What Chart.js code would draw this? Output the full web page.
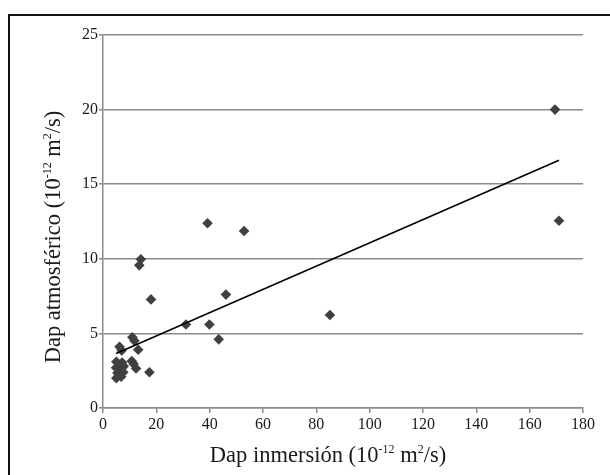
<!DOCTYPE html>
<html>
<head>
<meta charset="utf-8">
<title>Dap atmosférico vs Dap inmersión</title>
<script src="https://cdn.jsdelivr.net/npm/chart.js@4.4.1/dist/chart.umd.min.js"></script>
<style>
  html, body { margin: 0; padding: 0; background: #ffffff; }
  #wrap { width: 610px; height: 475px; position: relative; }
  canvas { display: block; }
</style>
</head>
<body>
<div id="wrap"><canvas id="c" width="610" height="475"></canvas></div>
<script>
// Apparent diffusion coefficients (10^-12 m2/s): immersion test vs atmospheric exposure
const dapInmersion = [
  169.5, 171.0, 85.1, 52.9, 39.2, 46.1, 39.9, 43.4, 31.1, 18.0,
  14.2, 13.6, 17.4, 11.0, 11.8, 13.2, 6.2, 7.0,
  5.0, 6.0, 7.2, 4.9, 6.5, 7.8, 5.4, 7.6, 5.0, 6.8,
  10.8, 11.5, 12.4
];
const dapAtmosferico = [
  20.0, 12.55, 6.23, 11.86, 12.38, 7.6, 5.6, 4.6, 5.6, 7.28,
  9.97, 9.56, 2.4, 4.74, 4.5, 3.9, 4.1, 3.85,
  3.1, 2.9, 3.05, 2.7, 2.6, 2.8, 2.35, 2.4, 2.0, 2.1,
  3.15, 2.95, 2.65
];

// Linear trend line: y = trendIntercept + trendSlope * x
const trendIntercept = 3.27;
const trendSlope = 0.078;

const xTicks = [0, 20, 40, 60, 80, 100, 120, 140, 160, 180];
const yTicks = [0, 5, 10, 15, 20, 25];

const xTitle = [
  { t: 'Dap inmersión (10' }, { t: '-12', sup: true }, { t: ' m' }, { t: '2', sup: true }, { t: '/s)' }
];
const yTitle = [
  { t: 'Dap atmosférico (10' }, { t: '-12', sup: true }, { t: ' m' }, { t: '2', sup: true }, { t: '/s)' }
];

const points = dapInmersion.map((x, i) => ({ x: x, y: dapAtmosferico[i] }));
const xMin = Math.min(...dapInmersion);
const xMax = Math.max(...dapInmersion);
const trend = [
  { x: xMin, y: trendIntercept + trendSlope * xMin },
  { x: xMax, y: trendIntercept + trendSlope * xMax }
];

const SERIF = '"Liberation Serif", "Times New Roman", serif';

function drawRich(ctx, segs, size) {
  const supSize = Math.round(size * 0.55);
  let total = 0;
  const widths = segs.map(s => {
    ctx.font = (s.sup ? supSize : size) + 'px ' + SERIF;
    const w = ctx.measureText(s.t).width;
    total += w;
    return w;
  });
  let x = -total / 2;
  segs.forEach((s, i) => {
    ctx.font = (s.sup ? supSize : size) + 'px ' + SERIF;
    ctx.fillText(s.t, x, s.sup ? -size * 0.42 : 0);
    x += widths[i];
  });
}

const decorations = {
  id: 'decorations',
  afterDraw(chart) {
    const ctx = chart.ctx;
    ctx.save();
    // outer frame (left and top edges)
    ctx.strokeStyle = '#111111';
    ctx.lineWidth = 2;
    ctx.beginPath();
    ctx.moveTo(9, 475);
    ctx.lineTo(9, 15);
    ctx.lineTo(610, 15);
    ctx.stroke();

    ctx.fillStyle = '#1a1a1a';
    ctx.textBaseline = 'alphabetic';
    ctx.textAlign = 'left';
    // x axis title
    ctx.save();
    ctx.translate(328, 462);
    drawRich(ctx, xTitle, 22.5);
    ctx.restore();
    // y axis title
    ctx.save();
    ctx.translate(60, 237);
    ctx.rotate(-Math.PI / 2);
    drawRich(ctx, yTitle, 22.5);
    ctx.restore();
    ctx.restore();
  }
};

new Chart(document.getElementById('c'), {
  type: 'scatter',
  data: {
    datasets: [
      {
        label: 'Tendencia',
        type: 'line',
        data: trend,
        borderColor: '#000000',
        borderWidth: 1.6,
        pointRadius: 0,
        fill: false,
        order: 0
      },
      {
        label: 'Dap',
        data: points,
        pointStyle: 'rectRot',
        pointRadius: 5.3,
        pointBackgroundColor: '#404040',
        pointBorderColor: '#404040',
        pointBorderWidth: 0,
        order: 1
      }
    ]
  },
  options: {
    responsive: false,
    animation: false,
    events: [],
    layout: { padding: { left: 0, right: 27, top: 35, bottom: 0 } },
    plugins: {
      legend: { display: false },
      tooltip: { enabled: false }
    },
    scales: {
      x: {
        type: 'linear',
        min: 0,
        max: 180,
        afterFit(scale) { scale.height = 67; },
        afterBuildTicks(scale) { scale.ticks = xTicks.map(v => ({ value: v })); },
        ticks: {
          font: { family: SERIF, size: 16 },
          color: '#1a1a1a',
          padding: 2,
          maxRotation: 0
        },
        grid: {
          drawOnChartArea: false,
          drawTicks: true,
          tickLength: 5,
          color: '#8a8a8a',
          lineWidth: 1.5
        },
        border: { display: true, color: '#8a8a8a', width: 1.5 }
      },
      y: {
        type: 'linear',
        min: 0,
        max: 25,
        afterFit(scale) { scale.width = 103; },
        afterBuildTicks(scale) { scale.ticks = yTicks.map(v => ({ value: v })); },
        ticks: {
          font: { family: SERIF, size: 16 },
          color: '#1a1a1a',
          padding: 1
        },
        grid: {
          drawOnChartArea: true,
          drawTicks: true,
          tickLength: 4,
          color: '#8a8a8a',
          lineWidth: 1.6
        },
        border: { display: true, color: '#8a8a8a', width: 1.5 }
      }
    }
  },
  plugins: [decorations]
});
</script>
</body>
</html>
